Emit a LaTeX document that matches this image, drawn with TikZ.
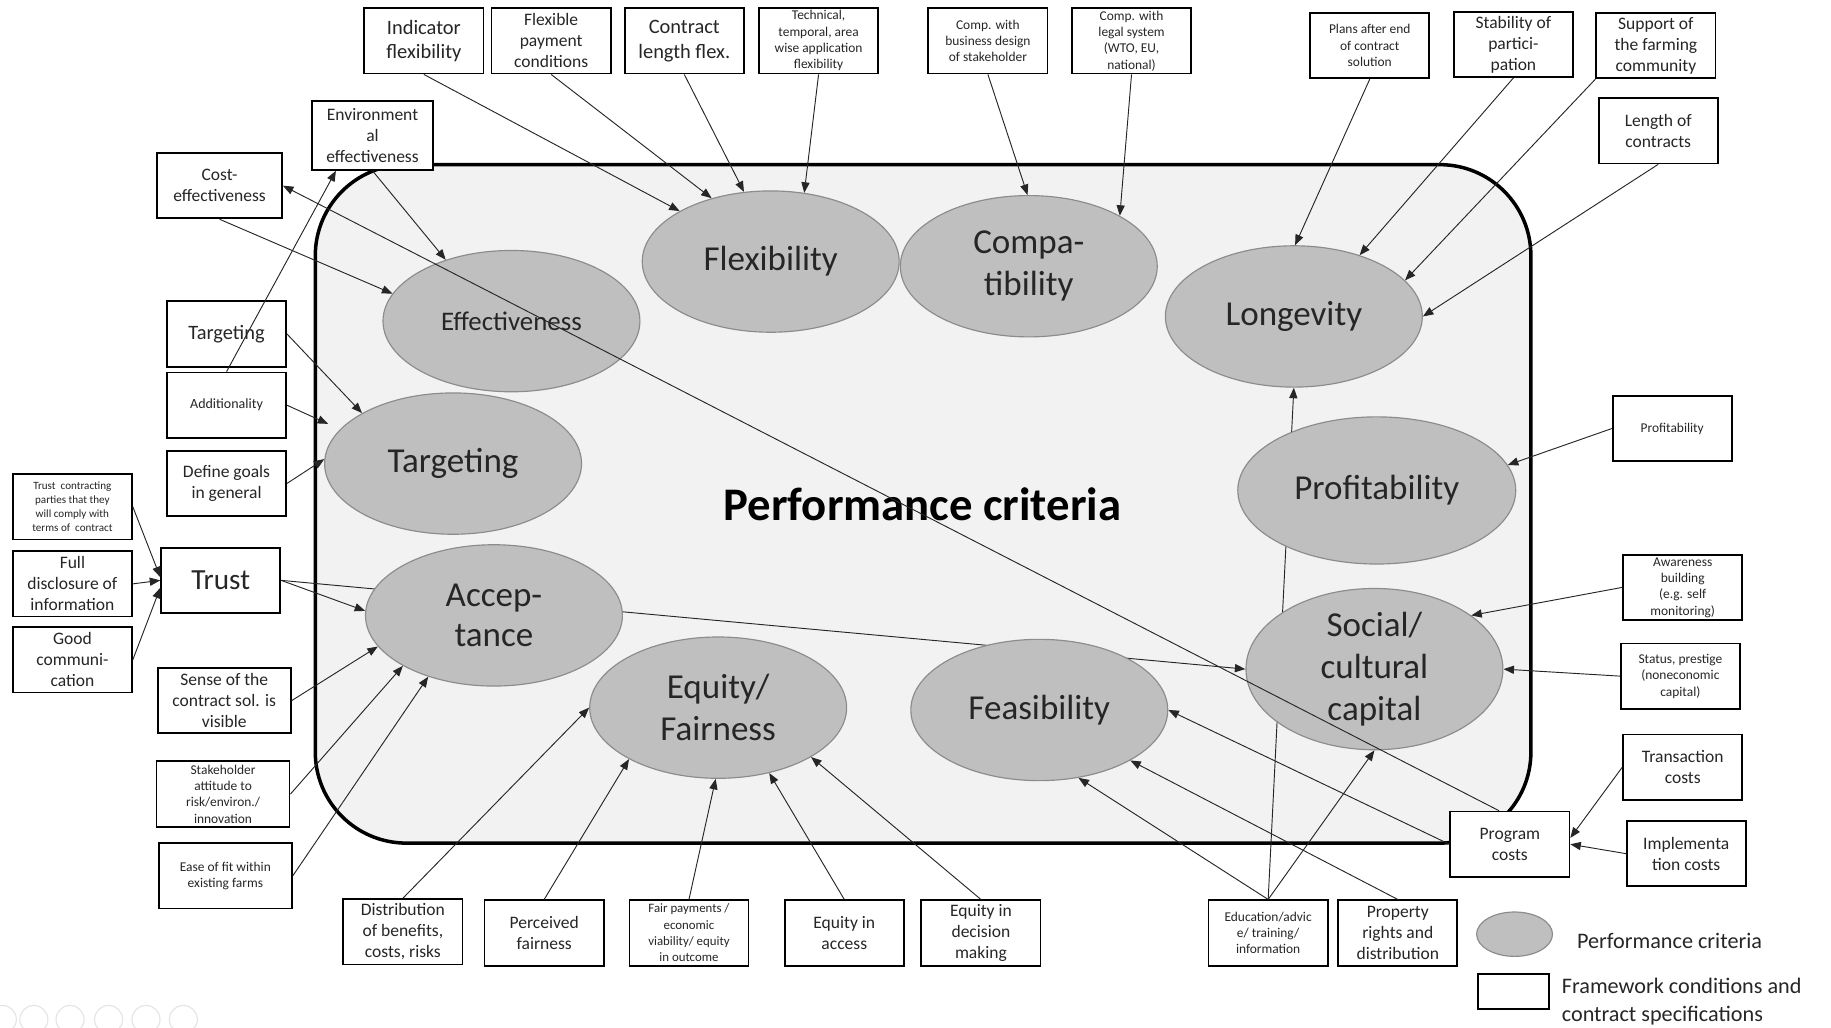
\documentclass[tikz,border=0pt]{standalone}
\usepackage{fontspec}
\setmainfont{Carlito}
\usetikzlibrary{arrows.meta,shapes.geometric}
\pgfdeclarelayer{bg}
\pgfsetlayers{bg,main}
\definecolor{critfill}{HTML}{BFBFBF}
\definecolor{critline}{HTML}{8C8C8C}
\definecolor{areafill}{HTML}{F2F2F2}
\definecolor{txt}{HTML}{262626}

\begin{document}
\begin{tikzpicture}[
    x=1pt, y=-1pt,
    crit/.style={ellipse, draw=critline, fill=critfill, line width=1pt, minimum width=220pt, minimum height=121pt, inner sep=0pt, align=center, text=txt, font=\fontsize{30}{36}\selectfont},
    cond/.style={rectangle, draw=black, fill=white, line width=1.5pt, minimum width=102pt, minimum height=56pt, inner sep=1pt, align=center, text=txt, font=\fontsize{15}{18}\selectfont},
    big/.style={font=\fontsize{17.5}{21}\selectfont},
    fine/.style={font=\fontsize{11.5}{14}\selectfont},
    arr/.style={-{Triangle[length=9pt,width=7pt]}, line width=0.8pt, draw=black!85}
    ]
    \useasboundingbox (0,0) rectangle (1568,880);

    %Criteria
    \node[crit, font=\fontsize{23}{27}\selectfont] at (438,275) (eff) {Effectiveness};
    \node[crit] at (660,224) (flex) {Flexibility};
    \node[crit] at (881,228) (comp) {Compa-\\tibility};
    \node[crit] at (1108,271) (long) {Longevity};
    \node[crit] at (388,397) (targ) {Targeting};
    \node[crit, minimum width=238pt, minimum height=126pt] at (1179,420) (prof) {Profitability};
    \node[crit, font=\fontsize{30}{35}\selectfont] at (423,527) (acc) {Accep-\\tance};
    \node[crit] at (615,606) (equ) {Equity/\\Fairness};
    \node[crit] at (890,608) (feas) {Feasibility};
    \node[crit] at (1177,573) (soc) {Social/\\cultural\\capital};

    \node[font=\bfseries\fontsize{40}{44}\selectfont] at (790,432) (title) {Performance criteria};

    %Conditions, top
    \node[cond, big] at (363,35) (indflex) {Indicator\\flexibility};
    \node[cond] at (472,35) (flexpay) {Flexible\\payment\\conditions};
    \node[cond, big] at (586,35) (conlen) {Contract\\length flex.};
    \node[cond, fine] at (701,35) (techflex) {Technical,\\temporal, area\\wise application\\flexibility};
    \node[cond, fine] at (846,35) (compbus) {Comp. with\\business design\\of stakeholder};
    \node[cond, fine] at (969,35) (complegal) {Comp. with\\legal system\\(WTO, EU,\\national)};
    \node[cond, fine] at (1173,39) (plans) {Plans after end\\of contract\\solution};
    \node[cond] at (1296,38) (stab) {Stability of\\partici-\\pation};
    \node[cond] at (1418,39) (support) {Support of\\the farming\\community};
    \node[cond] at (1420,112) (lencon) {Length of\\contracts};
    \node[cond, minimum width=104pt, minimum height=59pt] at (319,116) (enveff) {Environment\\al\\effectiveness};
    \node[cond, minimum width=107pt] at (188,159) (costeff) {Cost-\\effectiveness};

    %Conditions, left
    \node[cond, big] at (194,286) (targbox) {Targeting};
    \node[cond, font=\fontsize{12}{14}\selectfont] at (194,347) (addit) {Additionality};
    \node[cond] at (194,414) (defgoal) {Define goals\\in general};
    \node[cond, font=\fontsize{9.5}{12}\selectfont] at (62,434) (trustcon) {Trust~ contracting\\parties that they\\will comply with\\terms of~ contract};
    \node[cond] at (62,500) (fulldisc) {Full\\disclosure of\\information};
    \node[cond] at (62,565) (goodcom) {Good\\communi-\\cation};
    \node[cond, font=\fontsize{25}{28}\selectfont] at (189,497) (trust) {Trust};
    \node[cond, minimum width=114pt] at (192,600) (sense) {Sense of the\\contract sol. is\\visible};
    \node[cond, fine, minimum width=114pt] at (191,680) (stake) {Stakeholder\\attitude to\\risk/environ./\\innovation};
    \node[cond, fine, minimum width=114pt] at (193,750) (ease) {Ease of fit within\\existing farms};

    %Conditions, bottom
    \node[cond] at (345,798) (dist) {Distribution\\of benefits,\\costs, risks};
    \node[cond] at (466,799) (perc) {Perceived\\fairness};
    \node[cond, font=\fontsize{11}{14}\selectfont] at (590,799) (fair) {Fair payments /\\economic\\viability/ equity\\in outcome};
    \node[cond] at (723,799) (eqacc) {Equity in\\access};
    \node[cond] at (840,799) (eqdec) {Equity in\\decision\\making};
    \node[cond, fine] at (1086,799) (edu) {Education/advic\\e/ training/\\information};
    \node[cond] at (1197,799) (prop) {Property\\rights and\\distribution};

    %Conditions, right
    \node[cond, fine] at (1432,367) (profbox) {Profitability};
    \node[cond, fine] at (1441,503) (aware) {Awareness\\building\\(e.g. self\\monitoring)};
    \node[cond, fine] at (1439,579) (status) {Status, prestige\\(noneconomic\\capital)};
    \node[cond] at (1441,657) (trans) {Transaction\\costs};
    \node[cond] at (1444,731) (impl) {Implementa\\tion costs};
    \node[cond] at (1293,723) (prog) {Program\\costs};

    \coordinate (additend) at (281,363);

    %Legend
    \node[crit, minimum width=65pt, minimum height=38pt] at (1297,800) (legcrit) {};
    \node[anchor=west, text=txt, font=\fontsize{19}{24}\selectfont] at (1347,806) (legcrittext) {Performance criteria};
    \node[cond, minimum width=61pt, minimum height=30pt] at (1296,849) (legcond) {};
    \node[anchor=west, align=left, text=txt, font=\fontsize{19}{24}\selectfont] at (1334,858) (legcondtext) {Framework conditions and\\contract specifications};

    %Slide controls
    \foreach \ix in {2,29,60,93,125,157}
        \draw[black!10, line width=1pt] (\ix,873) circle[radius=12pt];

    %Lines
    \draw[arr] (indflex.south) -- (flex.151);
    \draw[arr] (flexpay.south) -- (flex.133);
    \draw[arr] (conlen.south) -- (flex.111);
    \draw[arr] (techflex.south) -- (flex.64);
    \draw[arr] (compbus.south) -- (comp.91);
    \draw[arr] (complegal.south) -- (comp.29);
    \draw[arr] (plans.south) -- (long.89);
    \draw[arr] (stab.south) -- (long.43);
    \draw[arr] (support.south west) -- (long.18);
    \draw[arr] (lencon.south) -- (long.east);
    \draw[arr] (enveff.south) -- (eff.137);
    \draw[arr] (costeff.south) -- (eff.167);
    \draw[arr] (prog.108) -- (costeff.east);
    \draw[arr] (addit.north) -- (enveff.224);
    \draw[arr] (targbox.east) -- (targ.151);
    \draw[arr] (addit.east) -- (additend);
    \draw[arr] (defgoal.east) -- (targ.178);
    \draw[arr] (trustcon.east) -- (trust.177);
    \draw[arr] (fulldisc.east) -- (trust.west);
    \draw[arr] (goodcom.east) -- (trust.187);
    \draw[arr] (trust.east) -- (acc.178);
    \draw[arr] (sense.east) -- (acc.195);
    \draw[arr] (stake.east) -- (acc.209);
    \draw[arr] (ease.east) -- (acc.223);
    \draw[arr] (dist.north) -- (equ.west);
    \draw[arr] (perc.north) -- (equ.210);
    \draw[arr] (fair.north) -- (equ.268);
    \draw[arr] (eqacc.north) -- (equ.308);
    \draw[arr] (eqdec.north) -- (equ.332);
    \draw[arr] (edu.north) -- (feas.300);
    \draw[arr] (edu.north) -- (soc.south);
    \draw[arr] (prop.north) -- (feas.331);
    \draw[arr] (prog.west) -- (feas.east);
    \draw[arr] (profbox.west) -- (prof.11);
    \draw[arr] (aware.west) -- (soc.29);
    \draw[arr] (status.west) -- (soc.east);
    \draw[arr] (trans.west) -- (prog.6);
    \draw[arr] (impl.west) -- (prog.east);

    %Area and the lines that run behind the criteria
    \begin{pgfonlayer}{bg}
    \draw[line width=3pt, fill=areafill, rounded corners=78pt] (270,141) rectangle (1311,722);
    \draw[arr] (trust.east) -- (soc.west);
    \draw[arr] (edu.north) -- (long.south);
    \end{pgfonlayer}
\end{tikzpicture}
\end{document}
